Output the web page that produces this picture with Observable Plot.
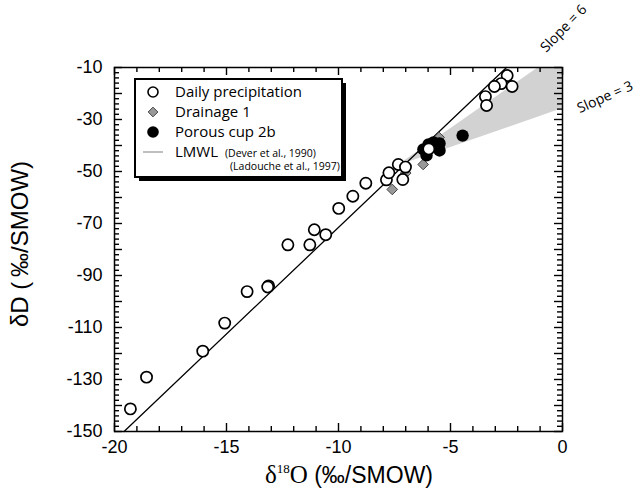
<!DOCTYPE html>
<html><head><meta charset="utf-8">
<script src="https://cdn.jsdelivr.net/npm/d3@7"></script>
<script src="https://cdn.jsdelivr.net/npm/@observablehq/plot@0.6"></script>
<style>body{margin:0;background:#fff} #chart{width:636px;height:502px}</style>
</head><body><div id="chart"></div>
<script>
// Daily precipitation (open circles)
const dailyO = [-19.29,-18.57,-16.06,-15.08,-14.08,-13.12,-13.16,-12.26,-11.28,-11.08,-10.57,-9.99,-9.36,-8.78,-7.86,-7.75,-7.33,-7.01,-7.13,-5.97,-2.47,-2.74,-3.04,-2.25,-3.44,-3.39];
const dailyD = [-141.3,-129.1,-119.1,-108.3,-96.2,-94.0,-94.4,-78.2,-78.2,-72.4,-74.3,-64.2,-59.5,-54.5,-53.2,-50.5,-47.3,-48.3,-53.1,-41.3,-13.1,-16.2,-17.3,-17.3,-21.2,-24.6];
// Drainage 1 (grey diamonds)
const drainO = [-7.60,-7.0,-6.22,-5.51];
const drainD = [-56.9,-50.6,-47.3,-36.9];
// Porous cup 2b (black dots)
const cupO = [-6.21,-5.98,-5.76,-5.49,-5.49,-6.07,-4.46];
const cupD = [-41.5,-39.6,-38.8,-39.2,-41.9,-43.8,-36.2];
// LMWL (Dever et al., 1990)
const lmwlSlope = 8.2, lmwlIntercept = 10.5;
// evaporation wedge: origin and bounding slopes
const wedgeOrigin = [-7.4, -48];
const wedgeSlopes = [6, 3];
const slopeLabels = ["Slope = 6", "Slope = 3"];
const xTicks = [-20,-15,-10,-5,0];
const yTicks = [-10,-30,-50,-70,-90,-110,-130,-150];
const legendLabels = ["Daily precipitation","Drainage 1","Porous cup 2b","LMWL"];
const legendCites = ["(Dever et al., 1990)","(Ladouche et al., 1997)"];

const xDom = [-20, 0], yDom = [-150, -10];
const W = 636, H = 502, mL = 114, mR = 74, mT = 67, mB = 71;
const innerW = W - mL - mR, innerH = H - mT - mB;
const pxX = innerW / (xDom[1]-xDom[0]), pxY = innerH / (yDom[1]-yDom[0]);

const daily = dailyO.map((x,i)=>({x, y: dailyD[i]}));
const drain = drainO.map((x,i)=>({x, y: drainD[i]}));
const cup = cupO.map((x,i)=>({x, y: cupD[i]}));
const lmwl = [(yDom[0]-lmwlIntercept)/lmwlSlope, (yDom[1]-lmwlIntercept)/lmwlSlope].map(x=>({x, y: lmwlSlope*x+lmwlIntercept}));
const [x0,y0] = wedgeOrigin;
const xu = x0 + (yDom[1]-y0)/wedgeSlopes[0];
const wedge = [x0, xu, xDom[1]].map(x=>({x, lo: y0 + wedgeSlopes[1]*(x-x0), hi: Math.min(yDom[1], y0 + wedgeSlopes[0]*(x-x0))}));

const xAll = d3.range(-20, 0.5, 1);
const yAll = d3.range(-150, -9, 2);
const minorLen = 5, majorLen = 8;
const lenX = d => (d%5===0 ? majorLen : minorLen) / pxY;   // vertical tick length in y units
const lenY = d => (d%10===0 ? majorLen : minorLen) / pxX;  // horizontal tick length in x units
const fmt = d => String(d);

const plot = Plot.plot({
  width: W, height: H, marginLeft: mL, marginRight: mR, marginTop: mT, marginBottom: mB,
  x: {domain: xDom}, y: {domain: yDom},
  style: {fontFamily: "'Liberation Sans', Arial, sans-serif", fontSize: "18px", background: "white", color: "black", overflow: "visible"},
  marks: [
    Plot.areaY(wedge, {x: "x", y1: "lo", y2: "hi", fill: "#d2d2d2"}),
    Plot.line(lmwl, {x: "x", y: "y", stroke: "black", strokeWidth: 1.3}),
    Plot.dot(drain, {x: "x", y: "y", symbol: d3.symbolDiamond2, r: 4.8, fill: "#999", stroke: "#444", strokeWidth: 1}),
    Plot.dot(cup, {x: "x", y: "y", r: 6.2, fill: "black"}),
    Plot.dot(daily, {x: "x", y: "y", r: 5.6, fill: "white", stroke: "black", strokeWidth: 1.7}),
    Plot.frame({stroke: "black", strokeWidth: 1.5}),
    Plot.ruleX(xAll, {x: d=>d, y1: yDom[0], y2: d=>yDom[0]+lenX(d), stroke: "black", strokeWidth: 1.4}),
    Plot.ruleX(xAll, {x: d=>d, y1: yDom[1], y2: d=>yDom[1]-lenX(d), stroke: "black", strokeWidth: 1.4}),
    Plot.ruleY(yAll, {y: d=>d, x1: xDom[0], x2: d=>xDom[0]+lenY(d), stroke: "black", strokeWidth: 1.4}),
    Plot.ruleY(yAll, {y: d=>d, x1: xDom[1], x2: d=>xDom[1]-lenY(d), stroke: "black", strokeWidth: 1.4}),
    Plot.axisX({ticks: xTicks, tickFormat: fmt, tickSize: 0, tickPadding: 9, label: null, fontSize: 18}),
    Plot.axisY({ticks: yTicks, tickFormat: fmt, tickSize: 0, tickPadding: 12, label: null, fontSize: 18}),
    Plot.text([slopeLabels[0]], {x: 0.05, y: 5.0, text: d=>d, rotate: -46, fontFamily: "'Open Sans', sans-serif", fontSize: 14, fill: "black"}),
    Plot.text([slopeLabels[1]], {x: 1.9, y: -21.4, text: d=>d, rotate: -24, fontFamily: "'Open Sans', sans-serif", fontSize: 14, fill: "black"})
  ]
});
document.getElementById("chart").appendChild(plot);

const svg = d3.select(plot);
// axis titles
svg.append("text").attr("transform", "translate(28,244) rotate(-90)")
  .attr("text-anchor", "middle").attr("font-family", "'Liberation Sans', Arial, sans-serif").attr("font-size", 24).attr("fill", "black")
  .text("\u03B4D (\u2009\u2030/SMOW)");
const xt = svg.append("text").attr("x", 349).attr("y", 483).attr("text-anchor", "middle").attr("fill", "black");
xt.append("tspan").attr("font-family", "'Liberation Serif', 'Times New Roman', serif").attr("font-size", 25).text("\u03B4");
xt.append("tspan").attr("font-family", "'Liberation Serif', 'Times New Roman', serif").attr("font-size", 13).attr("dy", -10).text("18");
xt.append("tspan").attr("font-family", "'Liberation Serif', 'Times New Roman', serif").attr("font-size", 25).attr("dy", 10).text("O");
xt.append("tspan").attr("font-family", "'Liberation Sans', Arial, sans-serif").attr("font-size", 23).text(" (\u2030/SMOW)");

// legend
const lg = svg.append("g").attr("font-family", "'Open Sans', sans-serif").attr("fill", "black").attr("text-anchor", "start");
lg.append("rect").attr("x", 139).attr("y", 83).attr("width", 207).attr("height", 98).attr("fill", "black");
lg.append("rect").attr("x", 135).attr("y", 79).attr("width", 207).attr("height", 98).attr("fill", "white").attr("stroke", "black").attr("stroke-width", 2);
const rows = [92, 112, 132, 152];
lg.append("circle").attr("cx", 153).attr("cy", rows[0]).attr("r", 5).attr("fill", "white").attr("stroke", "black").attr("stroke-width", 1.6);
lg.append("path").attr("transform", `translate(153,${rows[1]})`).attr("d", d3.symbol(d3.symbolDiamond2, 60)()).attr("fill", "#999").attr("stroke", "#444");
lg.append("circle").attr("cx", 153).attr("cy", rows[2]).attr("r", 5.8).attr("fill", "black");
lg.append("line").attr("x1", 143).attr("x2", 163).attr("y1", rows[3]).attr("y2", rows[3]).attr("stroke", "#aaa").attr("stroke-width", 1.5);
legendLabels.forEach((t,i)=>{
  lg.append("text").attr("x", 175).attr("y", rows[i]).attr("dy", "0.35em").attr("font-size", 15).text(t);
});
lg.append("text").attr("x", 225).attr("y", rows[3]+1).attr("dy", "0.35em").attr("font-size", 10.5).text(legendCites[0]);
lg.append("text").attr("x", 230).attr("y", 166).attr("dy", "0.35em").attr("font-size", 10.5).text(legendCites[1]);
</script>
</body></html>
